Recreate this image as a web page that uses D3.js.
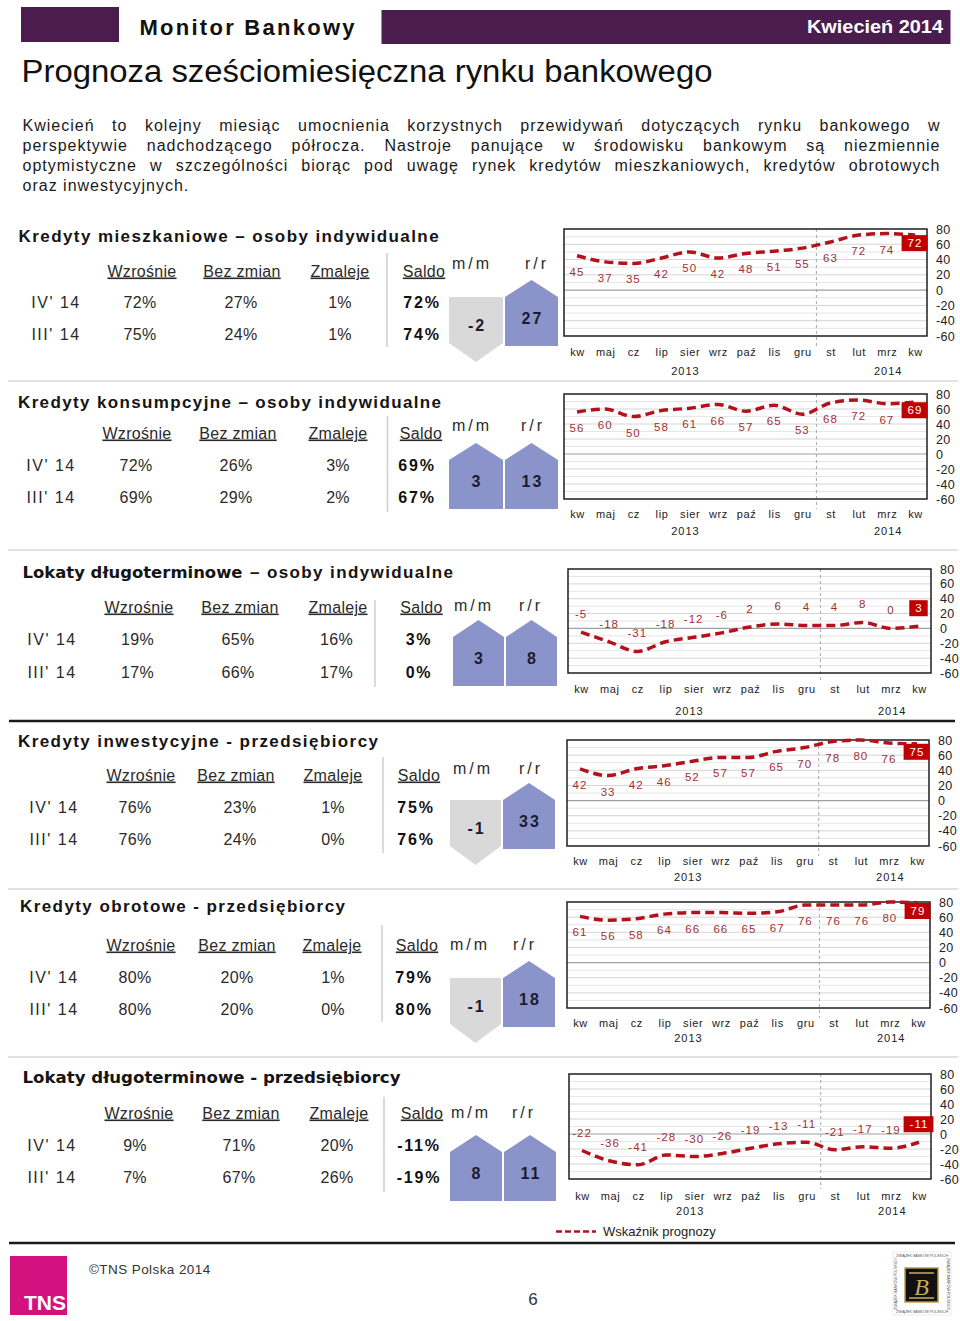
<!DOCTYPE html>
<html><head><meta charset="utf-8">
<script src="https://cdn.jsdelivr.net/npm/d3@7"></script>
<style>
body{margin:0;background:#fff;}
svg text{font-family:"Liberation Sans", Arial, sans-serif;}
</style></head>
<body><svg id="page" width="960" height="1321"></svg>
<script>
// ---------------- DATA ----------------
const months = ["kw","maj","cz","lip","sier","wrz","paź","lis","gru","st","lut","mrz","kw"];
const years = ["2013","2014"];
const yTicks = [80,60,40,20,0,-20,-40,-60];
const columns = ["Wzrośnie","Bez zmian","Zmaleje","Saldo"];
const periods = ["IV' 14","III' 14"];
const titles = [
  ["Kredyty mieszkaniowe – osoby indywidualne"],
  ["Kredyty konsumpcyjne – osoby indywidualne"],
  ["Lokaty długoterminowe", "– osoby indywidualne"],
  ["Kredyty inwestycyjne - przedsiębiorcy"],
  ["Kredyty obrotowe - przedsiębiorcy"],
  ["Lokaty długoterminowe - przedsiębiorcy"]
];
const seriesMieszkaniowe   = [45,37,35,42,50,42,48,51,55,63,72,74,72];
const seriesKonsumpcyjne   = [56,60,50,58,61,66,57,65,53,68,72,67,69];
const seriesLokatyOsoby    = [-5,-18,-31,-18,-12,-6,2,6,4,4,8,0,3];
const seriesInwestycyjne   = [42,33,42,46,52,57,57,65,70,78,80,76,75];
const seriesObrotowe       = [61,56,58,64,66,66,65,67,76,76,76,80,79];
const seriesLokatyFirmy    = [-22,-36,-41,-28,-30,-26,-19,-13,-11,-21,-17,-19,-11];
const tableMieszkaniowe = [[72,27,1,72],[75,24,1,74]];
const tableKonsumpcyjne = [[72,26,3,69],[69,29,2,67]];
const tableLokatyOsoby  = [[19,65,16,3],[17,66,17,0]];
const tableInwestycyjne = [[76,23,1,75],[76,24,0,76]];
const tableObrotowe     = [[80,20,1,79],[80,20,0,80]];
const tableLokatyFirmy  = [[9,71,20,-11],[7,67,26,-19]];
const changeMM = [-2,3,3,-1,-1,8];
const changeRR = [27,13,8,33,18,11];
const introLines = [
  "Kwiecień to kolejny miesiąc umocnienia korzystnych przewidywań dotyczących rynku bankowego w",
  "perspektywie nadchodzącego półrocza. Nastroje panujące w środowisku bankowym są niezmiennie",
  "optymistyczne w szczególności biorąc pod uwagę rynek kredytów mieszkaniowych, kredytów obrotowych",
  "oraz inwestycyjnych."
];
const legendLabel = "Wskaźnik prognozy";

const allSeries = [seriesMieszkaniowe,seriesKonsumpcyjne,seriesLokatyOsoby,seriesInwestycyjne,seriesObrotowe,seriesLokatyFirmy];
const allTables = [tableMieszkaniowe,tableKonsumpcyjne,tableLokatyOsoby,tableInwestycyjne,tableObrotowe,tableLokatyFirmy];

// ---------------- LAYOUT ----------------
const layout = [
 {titleY:236, segs:[[18.6,420,1]], headY:271, head:[142,242,340,424], rowLX:56, rowY:[302,334], val:[140,241,340,422], div:[387,253,347], mmX:472, rrX:537, labY:263, arrowX:[449,503,505,558], base:297, chart:{l:564,r:927,t:229,b:336,m:352,yr:371}},
 {titleY:402, segs:[[18,423,1]], headY:433, head:[137,238,338,421], rowLX:51, rowY:[465,497], val:[136,236,338,417], div:[387.5,416,512], mmX:472, rrX:533, labY:425, arrowX:[449,503,505,558], base:460, chart:{l:564,r:927,t:394,b:499,m:514,yr:531}},
 {titleY:572, segs:[[22.5,220,0],[250,203,1]], headY:607, head:[139,240,338,421.5], rowLX:52, rowY:[639,672], val:[137.5,238,336.5,419], div:[375,600,687], mmX:474, rrX:531, labY:605, arrowX:[453,504,506,557], base:637, chart:{l:568,r:931,t:569,b:673,m:689,yr:711}},
 {titleY:741, segs:[[18,360,1]], headY:775, head:[141,236,333,419], rowLX:54, rowY:[807,839], val:[135,240,333,416], div:[383,757,853], mmX:473, rrX:531, labY:768, arrowX:[450,501,503,555], base:800, chart:{l:567,r:929,t:740,b:846,m:861,yr:877}},
 {titleY:906, segs:[[20,325,1]], headY:945, head:[141,237,332,417], rowLX:54, rowY:[977,1009], val:[135,237,333,414], div:[382,925,1022], mmX:470, rrX:525, labY:944, arrowX:[450,501,503,555], base:978, chart:{l:567,r:930,t:902,b:1008,m:1023,yr:1038}},
 {titleY:1077, segs:[[22.5,378,0]], headY:1113, head:[139,241,339,422], rowLX:52, rowY:[1145,1177], val:[135,239,337,419], div:[384,1097,1192], mmX:471, rrX:524, labY:1112, arrowX:[450,502,504,556], base:1152, chart:{l:569,r:931,t:1074,b:1179,m:1196,yr:1211}}
];

const PURPLE = "#4b1d4e", LINE_RED = "#b3121c", LABEL_RED = "#9e3236", BOX_RED = "#c00000";
const BLUE = "#8a94ca", GREY = "#d9d9d9";

const svg = d3.select("#page");

// ---------------- HEADER ----------------
svg.append("rect").attr("x",21).attr("y",7).attr("width",98).attr("height",35).attr("fill",PURPLE);
svg.append("rect").attr("x",381.5).attr("y",10).attr("width",569).attr("height",34).attr("fill",PURPLE);
svg.append("text").attr("x",139.5).attr("y",34.5).attr("font-size",22).attr("font-weight","bold")
  .attr("fill","#111").attr("textLength",215).attr("lengthAdjust","spacing").text("Monitor Bankowy");
svg.append("text").attr("x",807).attr("y",33).attr("font-size",18).attr("font-weight","bold")
  .style("font-family",'"Liberation Sans Narrow","Liberation Sans",Arial,sans-serif')
  .attr("fill","#fff").attr("textLength",136).attr("lengthAdjust","spacingAndGlyphs").text("Kwiecień 2014");
svg.append("text").attr("x",21.5).attr("y",82).attr("font-size",31)
  .style("font-family",'"Liberation Sans Narrow","Liberation Sans",Arial,sans-serif')
  .attr("fill","#111").attr("textLength",691).attr("lengthAdjust","spacingAndGlyphs")
  .text("Prognoza sześciomiesięczna rynku bankowego");

introLines.forEach((t,i)=>{
  const el = svg.append("text").attr("x",22.5).attr("y",131+i*20).attr("font-size",16)
    .attr("letter-spacing",1).attr("fill","#1a1a1a").text(t);
  if(i<3){
    const n = t.split(" ").length-1;
    let s = 0;
    for(let k=0;k<4;k++){
      const w = el.node().getBBox().width;
      s += (918-w)/n;
      el.style("word-spacing", s+"px");
    }
  }
});

// separators
[381,550,889,1057].forEach(y=>svg.append("line").attr("x1",8).attr("x2",958).attr("y1",y).attr("y2",y).attr("stroke","#e2e2e2").attr("stroke-width",2));
[721,1243].forEach(y=>svg.append("line").attr("x1",9).attr("x2",955).attr("y1",y).attr("y2",y).attr("stroke","#1a1a1a").attr("stroke-width",2.5));

// ---------------- SECTIONS ----------------
function arrowPath(x0,x1,base,up){
  const xm=(x0+x1)/2;
  if(up) return `M${x0},${base}L${xm},${base-17}L${x1},${base}L${x1},${base+49}L${x0},${base+49}Z`;
  return `M${x0},${base}L${x1},${base}L${x1},${base+46}L${xm},${base+65}L${x0},${base+46}Z`;
}

layout.forEach((L,si)=>{
  const g = svg.append("g");
  titles[si].forEach((t,k)=>{
    const [x,w,spaced] = L.segs[k];
    const el = g.append("text").attr("x",x).attr("y",L.titleY+6).attr("font-size",17).attr("font-weight","bold")
      .attr("fill","#151515").attr("textLength",w).attr("lengthAdjust", spaced ? "spacing" : "spacingAndGlyphs").text(t);
    if(!spaced) el.style("font-family",'"DejaVu Sans","Liberation Sans",sans-serif').attr("font-size",16);
  });
  columns.forEach((c,j)=>{
    g.append("text").attr("x",L.head[j]).attr("y",L.headY+5.5).attr("text-anchor","middle").attr("font-size",16)
      .attr("letter-spacing",0.3).attr("fill","#2a2a2a").attr("text-decoration","underline").text(c);
  });
  const tbl = allTables[si];
  periods.forEach((p,r)=>{
    const y = L.rowY[r]+5.5;
    g.append("text").attr("x",L.rowLX).attr("y",y).attr("text-anchor","middle").attr("font-size",16)
      .attr("letter-spacing",1.5).attr("fill","#2a2a2a").text(p);
    tbl[r].forEach((v,j)=>{
      const el = g.append("text").attr("x",L.val[j]).attr("y",y).attr("text-anchor","middle").attr("font-size",16)
        .attr("fill", j===3 ? "#111" : "#2a2a2a").attr("letter-spacing", j===3 ? 1.8 : 0.3).text(v+"%");
      if(j===3) el.attr("font-weight","bold");
    });
  });
  g.append("line").attr("x1",L.div[0]).attr("x2",L.div[0]).attr("y1",L.div[1]).attr("y2",L.div[2])
    .attr("stroke","#cfcfcf").attr("stroke-width",1.5);
  [["m/m",L.mmX],["r/r",L.rrX]].forEach(([t,x])=>{
    g.append("text").attr("x",x).attr("y",L.labY+5.5).attr("text-anchor","middle").attr("font-size",16)
      .attr("letter-spacing",3).attr("fill","#2a2a2a").text(t);
  });
  [[changeMM[si],L.arrowX[0],L.arrowX[1]],[changeRR[si],L.arrowX[2],L.arrowX[3]]].forEach(([v,x0,x1])=>{
    const up = v>=0;
    g.append("path").attr("d",arrowPath(x0,x1,L.base,up)).attr("fill", up ? BLUE : GREY);
    g.append("text").attr("x",(x0+x1)/2+1).attr("y",(up ? L.base+21 : L.base+28)+5.5).attr("text-anchor","middle")
      .attr("font-size",16).attr("font-weight","bold").attr("letter-spacing",2).attr("fill","#1c1c30").text(v);
  });
  drawChart(g, allSeries[si], L.chart);
});

function drawChart(g, values, C){
  const x = d3.scalePoint().domain(d3.range(values.length)).range([C.l+13, C.r-12]);
  const y = d3.scaleLinear().domain([-60,80]).range([C.b, C.t]);
  g.append("g").selectAll("line").data(d3.range(-50,80,10)).join("line")
    .attr("x1",C.l).attr("x2",C.r).attr("y1",d=>y(d)).attr("y2",d=>y(d))
    .attr("stroke",d=>d===0 ? "#a0a0a0" : (d%20===0 ? "#d4d4d4" : "#e6e6e6")).attr("stroke-width",d=>d===0?1.2:1);
  const xd = (x(8)+x(9))/2;
  g.append("line").attr("x1",xd).attr("x2",xd).attr("y1",C.t).attr("y2",C.b+10)
    .attr("stroke","#a8a8a8").attr("stroke-width",1).attr("stroke-dasharray","3,3");
  g.append("rect").attr("x",C.l).attr("y",C.t).attr("width",C.r-C.l).attr("height",C.b-C.t)
    .attr("fill","none").attr("stroke","#1e1e1e").attr("stroke-width",1.5);
  const line = d3.line().x((d,i)=>x(i)).y(d=>y(d)).curve(d3.curveMonotoneX);
  g.append("path").datum(values).attr("d",line).attr("fill","none").attr("stroke",LINE_RED)
    .attr("stroke-width",3.5).attr("stroke-dasharray","9,5");
  const above = d3.min(values) < 0;
  const n = values.length;
  values.forEach((v,i)=>{
    if(i===n-1) return;
    g.append("text").attr("x",x(i)).attr("y",y(v)+(above?-18:16)+4).attr("text-anchor","middle")
      .attr("font-size",11.5).attr("letter-spacing",1).attr("fill",LABEL_RED).text(v);
  });
  const lv = values[n-1];
  const ly = above ? y(lv)-18 : Math.max(y(lv)+8, C.t+9);
  const lg = g.append("g");
  const lt = lg.append("text").attr("x",x(n-1)).attr("y",ly+4).attr("text-anchor","middle")
    .attr("font-size",11.5).attr("letter-spacing",1).attr("fill","#fff").text(lv);
  const tw = lt.node().getComputedTextLength();
  lg.insert("rect","text").attr("x",x(n-1)-tw/2-6).attr("y",ly-8).attr("width",tw+11).attr("height",16).attr("fill",BOX_RED);
  const ya = g.append("g").attr("transform",`translate(${C.r+9},0)`)
    .call(d3.axisRight(y).tickValues(yTicks).tickSize(0).tickPadding(0).tickFormat(d=>String(d)));
  ya.select(".domain").remove();
  ya.selectAll("text").attr("font-size",12.5).attr("fill","#222").attr("letter-spacing",0.3);
  const xa = g.append("g").attr("transform",`translate(0,${C.m})`)
    .call(d3.axisBottom(x).tickSize(0).tickPadding(0).tickFormat(i=>months[i]));
  xa.select(".domain").remove();
  xa.selectAll("text").attr("y",0).attr("dy","0.35em").attr("font-size",11).attr("letter-spacing",0.6).attr("fill","#222");
  const step = x(1)-x(0);
  [3.85,11.05].forEach((p,k)=>{
    g.append("text").attr("x",x(0)+step*p).attr("y",C.yr+4).attr("text-anchor","middle")
      .attr("font-size",11).attr("letter-spacing",1).attr("fill","#222").text(years[k]);
  });
}

// legend
svg.append("line").attr("x1",556).attr("x2",596).attr("y1",1231.5).attr("y2",1231.5)
  .attr("stroke",LINE_RED).attr("stroke-width",2.5).attr("stroke-dasharray","6,3");
svg.append("text").attr("x",603).attr("y",1236).attr("font-size",13).attr("fill","#222").text(legendLabel);

// ---------------- FOOTER ----------------
svg.append("rect").attr("x",10).attr("y",1256).attr("width",57).attr("height",59).attr("fill","#d4127f");
svg.append("text").attr("x",24).attr("y",1310).attr("font-size",21).attr("font-weight","bold")
  .style("font-family",'"Liberation Sans Narrow","Liberation Sans",Arial,sans-serif')
  .attr("fill","#fff").text("TNS");
svg.append("text").attr("x",89).attr("y",1274).attr("font-size",13.5).attr("letter-spacing",0.8)
  .attr("fill","#333").attr("textLength",122).attr("lengthAdjust","spacing").text("©TNS Polska 2014");
svg.append("text").attr("x",533).attr("y",1305).attr("text-anchor","middle").attr("font-size",17).attr("fill","#333").text("6");
const lgz = svg.append("g");
lgz.append("rect").attr("x",893).attr("y",1252).attr("width",58).attr("height",63).attr("fill","#fff").attr("stroke","#ddd").attr("stroke-width",0.6);
lgz.append("text").attr("x",922).attr("y",1257).attr("text-anchor","middle").attr("font-size",3.6).attr("fill","#555").text("ZWIĄZEK BANKÓW POLSKICH");
lgz.append("text").attr("x",922).attr("y",1313).attr("text-anchor","middle").attr("font-size",3.6).attr("fill","#555").text("ZWIĄZEK BANKÓW POLSKICH");
lgz.append("text").attr("transform","translate(897,1284) rotate(-90)").attr("text-anchor","middle").attr("font-size",3.6).attr("fill","#555").text("ZWIĄZEK BANKÓW POLSKICH");
lgz.append("text").attr("transform","translate(947,1284) rotate(90)").attr("text-anchor","middle").attr("font-size",3.6).attr("fill","#555").text("ZWIĄZEK BANKÓW POLSKICH");
lgz.append("rect").attr("x",905).attr("y",1268).attr("width",33).attr("height",34).attr("fill","#111").attr("stroke","#b89b4a").attr("stroke-width",1.5);
lgz.append("text").attr("x",921.5).attr("y",1295).attr("text-anchor","middle").attr("font-size",24)
  .style("font-family",'"Liberation Serif",serif').attr("font-style","italic").attr("fill","#c9ad5c").text("B");
lgz.append("line").attr("x1",909).attr("x2",934).attr("y1",1273).attr("y2",1273).attr("stroke","#c9ad5c").attr("stroke-width",1.5);
lgz.append("line").attr("x1",909).attr("x2",934).attr("y1",1298).attr("y2",1298).attr("stroke","#c9ad5c").attr("stroke-width",1.5);
</script>
</body></html>
